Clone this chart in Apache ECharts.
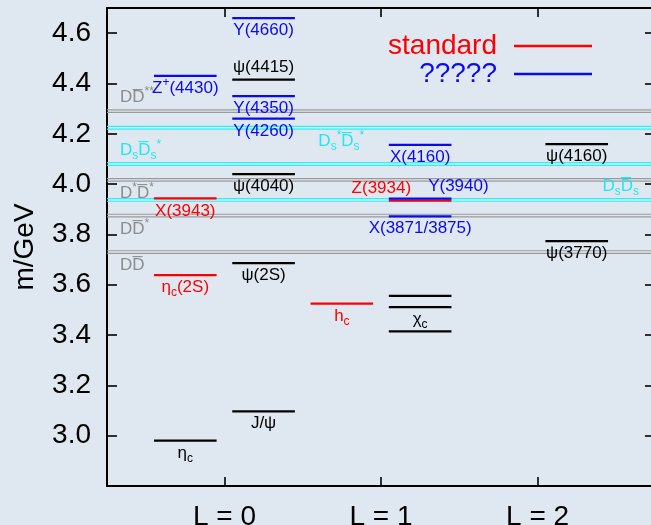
<!DOCTYPE html>
<html>
<head>
<meta charset="utf-8">
<script src="https://cdn.jsdelivr.net/npm/echarts@6/dist/echarts.min.js"></script>
<style>
  html, body { margin: 0; padding: 0; background: #dfe8f1; }
  #chart { width: 651px; height: 525px; }
</style>
</head>
<body>
<div id="chart"></div>
<script>
// ---------------- data ----------------
const categories = ['L = 0', 'L = 1', 'L = 2'];
const yTickLabels = ['3.0', '3.2', '3.4', '3.6', '3.8', '4.0', '4.2', '4.4', '4.6'];

// established charmonium levels (black)
const knownLabels = ['η{b|c}', 'J/ψ', 'ψ(2S)', 'ψ(4040)', 'ψ(4415)', '', 'χ{b|c}', '', 'ψ(3770)', 'ψ(4160)'];
const knownL      = [0, 0, 0, 0, 0, 1, 1, 1, 2, 2];
const knownSpin   = [0, 1, 1, 1, 1, 1, 1, 1, 1, 1];
const knownMass   = [2.980, 3.097, 3.686, 4.040, 4.415, 3.415, 3.511, 3.556, 3.773, 4.159];

// new states fitting the standard picture (red)
const standardLabels = ['η{b|c}(2S)', 'X(3943)', 'h{b|c}', 'Z(3934)'];
const standardL      = [0, 0, 1, 1];
const standardSpin   = [0, 0, 0, 1];
const standardMass   = [3.638, 3.943, 3.525, 3.934];

// unexplained states (blue)
const exoticLabels = ['Z{p|+}(4430)', 'Y(4260)', 'Y(4350)', 'Y(4660)', 'X(4160)', 'Y(3940)', 'X(3871/3875)'];
const exoticL      = [0, 0, 0, 0, 1, 1, 1];
const exoticSpin   = [0, 1, 1, 1, 1, 1, 1];
const exoticMass   = [4.430, 4.260, 4.350, 4.660, 4.156, 3.942, 3.872];

// open-charm thresholds
const thresholdLabels = ['DD\u0305', 'DD\u0305{p|*}', 'D{p|*}D\u0305{p|*}', 'DD\u0305{p|**}',
                         'D{b|s}D\u0305{b|s}', 'D{b|s}D\u0305{b|s}{p|*}', 'D{b|s}{p|*}D\u0305{b|s}{p|*}'];
const thresholdMass   = [3.730, 3.875, 4.017, 4.290, 3.937, 4.080, 4.224];
const thresholdKind   = ['D', 'D', 'D', 'D', 'Ds', 'Ds', 'Ds'];

// ---------------- layout / style ----------------
const FONT = 'Liberation Sans';
const X_MIN = -0.75, X_MAX = 2.75;
const HALF = 0.2, OFFSET = 0.25;
const BLACK = '#000000', RED = '#ff0000', BLUE = '#0a0af0';
const GREY_LINE = '#9a9a9a', GREY_TEXT = '#8c8c8c';
const CYAN_LINE = '#22f4f8', CYAN_TEXT = '#1ee8f2';
const levelLabelPlace = { 'ψ(4415)': 'above', 'Z(3934)': 'aboveLeft', 'Y(3940)': 'aboveRight' };
const thresholdLabelPlace = ['left-below', 'left-below', 'left-below', 'left-above',
                             'right-above', 'left-above', 'mid-below'];

function rich(color) {
  return {
    b: { fontSize: 12, lineHeight: 12, verticalAlign: 'bottom', fontFamily: FONT, fill: color },
    p: { fontSize: 12, lineHeight: 12, verticalAlign: 'top', fontFamily: FONT, fill: color }
  };
}
function textEl(text, x, y, align, va, color) {
  return {
    type: 'text',
    style: {
      text: text, x: x, y: y, align: align, verticalAlign: va, fill: color,
      fontSize: 17, fontFamily: FONT, lineHeight: 23, rich: rich(color)
    }
  };
}

function levelData(Ls, spins, masses) {
  return masses.map((m, i) => [Ls[i] + (spins[i] ? OFFSET : -OFFSET), m, i]);
}

function makeLevelRender(color, labels) {
  return function (params, api) {
    const x = api.value(0), m = api.value(1), i = api.value(2);
    const a = api.coord([x - HALF, m]), b = api.coord([x + HALF, m]);
    const cx = (a[0] + b[0]) / 2, y = a[1];
    const children = [{
      type: 'line',
      shape: { x1: a[0], y1: y, x2: b[0], y2: y },
      style: { stroke: color, lineWidth: 2.2 }
    }];
    const txt = labels[i];
    if (txt) {
      const place = levelLabelPlace[txt] || 'below';
      let tx = cx, align = 'center', ty = y + 1, va = 'top';
      if (place === 'above') { ty = y - 1; va = 'bottom'; }
      if (place === 'aboveLeft') { tx = cx - 9; align = 'right'; ty = y - 1; va = 'bottom'; }
      if (place === 'aboveRight') { tx = cx + 8; align = 'left'; ty = y - 1; va = 'bottom'; }
      children.push(textEl(txt, tx, ty, align, va, color));
    }
    return { type: 'group', children: children };
  };
}

function renderThreshold(params, api) {
  const m = api.value(1), i = api.value(2);
  const a = api.coord([X_MIN, m]), b = api.coord([X_MAX, m]);
  const isDs = thresholdKind[i] === 'Ds';
  const lc = isDs ? CYAN_LINE : GREY_LINE;
  const tc = isDs ? CYAN_TEXT : GREY_TEXT;
  const y = a[1];
  const children = [
    { type: 'line', shape: { x1: a[0], y1: y - 1.3, x2: b[0], y2: y - 1.3 }, style: { stroke: lc, lineWidth: 1.2 } },
    { type: 'line', shape: { x1: a[0], y1: y + 1.3, x2: b[0], y2: y + 1.3 }, style: { stroke: lc, lineWidth: 1.2 } }
  ];
  const place = thresholdLabelPlace[i];
  let tx, align;
  if (place.indexOf('left') === 0) { tx = a[0] + 13; align = 'left'; }
  else if (place.indexOf('mid') === 0) { tx = api.coord([0.6, m])[0]; align = 'left'; }
  else { tx = b[0] - 16; align = 'right'; }
  const below = place.slice(-5) === 'below';
  children.push(textEl(thresholdLabels[i], tx, below ? y + 2 : y - 2, align, below ? 'top' : 'bottom', tc));
  return { type: 'group', children: children };
}

const yTickValues = yTickLabels.map(Number);
const xTickValues = categories.map((c, i) => i);

const axisLineStyle = { color: '#000', width: 2 };
const tickStyle = { color: '#000', width: 1.6 };

const chart = echarts.init(document.getElementById('chart'), null, { renderer: 'canvas' });
chart.setOption({
  animation: false,
  backgroundColor: '#dfe8f1',
  textStyle: { fontFamily: FONT },
  grid: { left: 107, top: 8, width: 548, height: 478, containLabel: false, outerBoundsMode: 'none' },
  legend: {
    orient: 'vertical', right: 59, top: 32, align: 'right', padding: 0,
    itemWidth: 78, itemHeight: 2.5, itemGap: 0, icon: 'rect', selectedMode: false,
    textStyle: { fontSize: 28, fontFamily: FONT, padding: [0, 12, 0, 0] },
    data: [
      { name: 'standard', textStyle: { color: RED } },
      { name: '?????', textStyle: { color: BLUE } }
    ]
  },
  xAxis: [
    {
      type: 'value', min: X_MIN, max: X_MAX, position: 'bottom',
      axisLine: { onZero: false, lineStyle: axisLineStyle },
      axisTick: { inside: true, length: 9, customValues: xTickValues, lineStyle: tickStyle },
      axisLabel: { customValues: xTickValues, formatter: v => categories[Math.round(v)],
                   fontSize: 28, color: '#000', margin: 17, fontFamily: FONT },
      splitLine: { show: false }
    },
    {
      type: 'value', min: X_MIN, max: X_MAX, position: 'top',
      axisLine: { onZero: false, lineStyle: axisLineStyle },
      axisTick: { inside: true, length: 9, customValues: xTickValues, lineStyle: tickStyle },
      axisLabel: { show: false },
      splitLine: { show: false }
    }
  ],
  yAxis: [
    {
      type: 'value', min: 2.8, max: 4.7, position: 'left',
      name: 'm/GeV', nameLocation: 'middle', nameGap: 68,
      nameTextStyle: { fontSize: 28, color: '#000', fontFamily: FONT },
      axisLine: { onZero: false, lineStyle: axisLineStyle },
      axisTick: { inside: true, length: 10, customValues: yTickValues, lineStyle: tickStyle },
      axisLabel: { customValues: yTickValues, formatter: v => v.toFixed(1),
                   fontSize: 28, color: '#000', margin: 16, fontFamily: FONT },
      splitLine: { show: false }
    },
    {
      type: 'value', min: 2.8, max: 4.7, position: 'right',
      axisLine: { onZero: false, lineStyle: axisLineStyle },
      axisTick: { inside: true, length: 10, customValues: yTickValues, lineStyle: tickStyle },
      axisLabel: { show: false },
      splitLine: { show: false }
    }
  ],
  series: [
    {
      name: 'thresholds', type: 'custom', z: 1,
      data: thresholdMass.map((m, i) => [0, m, i]),
      encode: { x: 0, y: 1 },
      renderItem: renderThreshold, silent: true
    },
    {
      name: 'known', type: 'custom', z: 2,
      itemStyle: { color: BLACK },
      data: levelData(knownL, knownSpin, knownMass),
      encode: { x: 0, y: 1 },
      renderItem: makeLevelRender(BLACK, knownLabels), silent: true
    },
    {
      name: 'standard', type: 'custom', z: 3,
      itemStyle: { color: RED },
      data: levelData(standardL, standardSpin, standardMass),
      encode: { x: 0, y: 1 },
      renderItem: makeLevelRender(RED, standardLabels), silent: true
    },
    {
      name: '?????', type: 'custom', z: 4,
      itemStyle: { color: BLUE },
      data: levelData(exoticL, exoticSpin, exoticMass),
      encode: { x: 0, y: 1 },
      renderItem: makeLevelRender(BLUE, exoticLabels), silent: true
    }
  ]
});
</script>
</body>
</html>
